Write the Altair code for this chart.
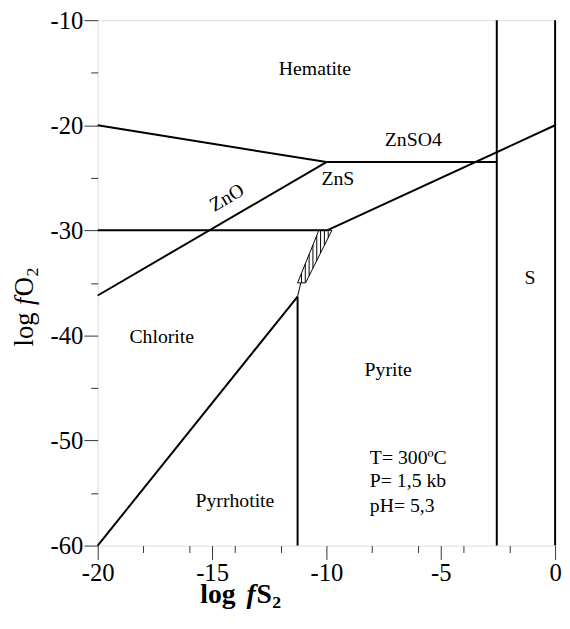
import altair as alt
import pandas as pd

FONT = "Liberation Serif"

# Phase boundaries (thick): log fS2 / log fO2 end points
b_x1 = [-20.0, -10.0, -20.0, -20.0, -9.97, -2.55, -20.0, -11.26]
b_y1 = [-20.0, -23.5, -36.2, -30.0, -30.0, -60.0, -60.0, -60.0]
b_x2 = [-10.0, -2.55, -10.0, -9.97, 0.0, -2.55, -11.26, -11.26]
b_y2 = [-23.5, -23.5, -23.5, -30.0, -20.0, -10.0, -36.3, -36.3]

# Hatched field corners (BL, BR, TR, TL)
h_x = [-11.26, -10.91, -9.76, -10.33]
h_y = [-35.0, -35.0, -30.0, -30.0]
# thin connector below the hatched field
c_x = [-11.26, -11.12]
c_y = [-36.3, -35.0]

# Field labels
lab_text = ["Hematite", "ZnSO4", "ZnS", "Chlorite", "Pyrite", "S", "Pyrrhotite"]
lab_x = [-10.5, -6.2, -9.5, -17.2, -7.3, -1.1, -14.0]
lab_y = [-14.7, -21.4, -25.1, -40.2, -43.3, -34.5, -55.8]

zno_x = [-14.35]
zno_y = [-26.9]

cond_text = ["T= 300ºC", "P= 1,5 kb", "pH= 5,3"]
cond_x = [-8.1, -8.1, -8.1]
cond_y = [-51.7, -53.9, -56.2]

x_major = [-20, -15, -10, -5, 0]
x_minor = [-18, -16, -14, -12, -8, -6, -4, -2]
y_major = [-10, -20, -30, -40, -50, -60]
y_minor = [-15, -25, -35, -45, -55]

xs = alt.Scale(domain=[-20, 0], nice=False, zero=False)
ys = alt.Scale(domain=[-60, -10], nice=False, zero=False)

# ---- tables
seg = pd.DataFrame({"x": b_x1, "y": b_y1, "x2": b_x2, "y2": b_y2})

thin_rows = []
for i in range(4):
    j = (i + 1) % 4
    thin_rows.append((h_x[i], h_y[i], h_x[j], h_y[j]))
thin_rows.append((c_x[0], c_y[0], c_x[1], c_y[1]))
thin = pd.DataFrame(thin_rows, columns=["x", "y", "x2", "y2"])

# vertical hatch strokes clipped to the parallelogram
hatch_rows = []
BLx, BLy = h_x[0], h_y[0]
BRx = h_x[1]
TRx, TRy = h_x[2], h_y[2]
TLx = h_x[3]
n = 8
step = 0.167
for k in range(n):
    xv = -11.09 + k * step
    ylo = max(BLy, BLy + (xv - BRx) * (TRy - BLy) / (TRx - BRx))
    yhi = min(TRy, BLy + (xv - BLx) * (TRy - BLy) / (TLx - BLx))
    if yhi > ylo:
        hatch_rows.append((xv, ylo, xv, yhi))
hatch = pd.DataFrame(hatch_rows, columns=["x", "y", "x2", "y2"])

labs = pd.DataFrame({"x": lab_x, "y": lab_y, "t": lab_text})
zno = pd.DataFrame({"x": zno_x, "y": zno_y, "t": ["ZnO"]})
cond = pd.DataFrame({"x": cond_x, "y": cond_y, "t": cond_text})

def major_axis(orient, values):
    return alt.Axis(values=values, orient=orient, tickSize=14, tickWidth=1,
                    tickColor="#333", labelFont=FONT, labelFontSize=25,
                    labelColor="black", labelPadding=1, labelFlush=False,
                    labelOverlap=False, labelExpr="toString(datum.value)",
                    domain=False, grid=False, title=None)

def minor_axis(orient, values):
    return alt.Axis(values=values, orient=orient, tickSize=7, tickWidth=1,
                    tickColor="#333", labels=False, domain=False, grid=False,
                    title=None)

base_major = alt.Chart(seg).mark_rule(color="black", strokeWidth=2).encode(
    x=alt.X("x:Q", scale=xs, axis=major_axis("bottom", x_major)),
    y=alt.Y("y:Q", scale=ys, axis=major_axis("left", y_major)),
    x2="x2:Q", y2="y2:Q",
)

# frame on the right-hand side of the plot area
frame_right = alt.Chart(pd.DataFrame({"x": [0.0]})).mark_rule(
    color="black", strokeWidth=2).encode(
    x=alt.X("x:Q", scale=xs, axis=None),
    y=alt.value(0), y2=alt.value(533),
)

thin_layer = alt.Chart(thin).mark_rule(color="black", strokeWidth=1).encode(
    x=alt.X("x:Q", scale=xs, axis=None), y=alt.Y("y:Q", scale=ys, axis=None),
    x2="x2:Q", y2="y2:Q",
)

hatch_layer = alt.Chart(hatch).mark_rule(color="black", strokeWidth=1).encode(
    x=alt.X("x:Q", scale=xs, axis=None), y=alt.Y("y:Q", scale=ys, axis=None),
    x2="x2:Q", y2="y2:Q",
)

labels = alt.Chart(labs).mark_text(font=FONT, fontSize=20, color="black",
                                   align="center", baseline="middle").encode(
    x=alt.X("x:Q", scale=xs, axis=minor_axis("bottom", x_minor)),
    y=alt.Y("y:Q", scale=ys, axis=minor_axis("left", y_minor)),
    text="t:N",
)

zno_layer = alt.Chart(zno).mark_text(font=FONT, fontSize=20, color="black",
                                     align="center", baseline="middle",
                                     angle=330).encode(
    x=alt.X("x:Q", scale=xs, axis=None), y=alt.Y("y:Q", scale=ys, axis=None),
    text="t:N",
)

cond_layer = alt.Chart(cond).mark_text(font=FONT, fontSize=20, color="black",
                                       align="left", baseline="middle").encode(
    x=alt.X("x:Q", scale=xs, axis=None), y=alt.Y("y:Q", scale=ys, axis=None),
    text="t:N",
)

# Axis titles built from pieces (italic f, subscript 2), pixel layout
yt = pd.DataFrame({
    "px": [-66, -66, -66, -61],
    "py": [331, 289, 280, 260],
    "t": ["log ", "f", "O", "2"],
    "style": ["normal", "italic", "normal", "normal"],
    "size": [27, 27, 27, 18],
})
xt = pd.DataFrame({
    "px": [104, 151, 161, 177],
    "py": [591, 591, 591, 596],
    "t": ["log ", "f", "S", "2"],
    "style": ["normal", "italic", "normal", "normal"],
    "size": [28, 28, 28, 18],
})

def title_layer(df, angle):
    layers = []
    for _, r in df.iterrows():
        d = pd.DataFrame([r])
        kw = dict(font=FONT, fontSize=int(r["size"]), fontStyle=r["style"],
                  color="black", align="left", baseline="alphabetic")
        if angle:
            kw["angle"] = angle
        else:
            kw["fontWeight"] = "bold"
        layers.append(alt.Chart(d).mark_text(**kw).encode(
            x=alt.X("px:Q", scale=None, axis=None),
            y=alt.Y("py:Q", scale=None, axis=None),
            text="t:N"))
    return layers

chart = alt.layer(
    base_major, frame_right, labels, thin_layer, hatch_layer, zno_layer,
    cond_layer, *title_layer(yt, 270), *title_layer(xt, 0)
).resolve_axis(x="independent", y="independent").properties(
    width=464, height=533,
    autosize=alt.AutoSizeParams(type="none"),
    padding={"left": 91, "top": 8, "right": 7, "bottom": 62},
).configure_view(stroke="black", strokeWidth=2).configure(background="white")

chart.save("out.html", embed_options={"renderer": "svg", "actions": False})
